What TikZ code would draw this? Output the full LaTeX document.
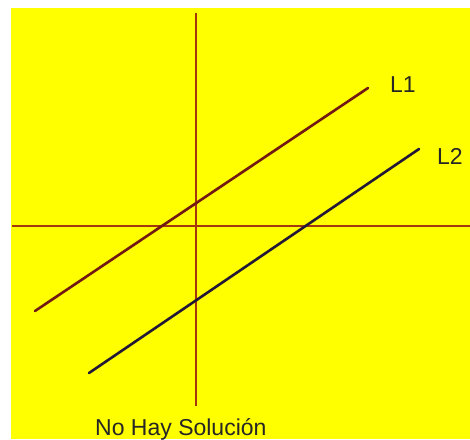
\documentclass[tikz,border=0pt]{standalone}
\usepackage{fontspec}
\setmainfont{Liberation Sans}
\definecolor{bgyellow}{RGB}{255,255,0}
\definecolor{axisred}{RGB}{165,55,15}
\definecolor{lineone}{RGB}{115,25,20}
\definecolor{linetwo}{RGB}{35,25,55}
\tikzset{
  axisline/.style={axisred,line width=1.8pt},
  sysline/.style={line width=2.6pt,line cap=round},
  lbl/.style={anchor=base west,inner sep=0pt,font=\fontsize{23}{25}\selectfont,text=black!85}
}

\begin{document}
\begin{tikzpicture}[x=1pt,y=-1pt]
  \useasboundingbox (0,0) rectangle (470,439);
  \fill[white] (0,0) rectangle (470,439);
  \fill[bgyellow] (11,8) rectangle (470,439);
  % axes
  \coordinate (ytop) at (196,13);
  \coordinate (ybot) at (196,406);
  \coordinate (xleft) at (12,226);
  \coordinate (xright) at (470,226);
  \draw[axisline] (ytop) -- (ybot);
  \draw[axisline] (xleft) -- (xright);
  % the two parallel lines
  \coordinate (a1) at (35,311);
  \coordinate (b1) at (368,88);
  \coordinate (a2) at (89,373);
  \coordinate (b2) at (419,149);
  \draw[sysline,lineone] (a1) -- (b1);
  \draw[sysline,linetwo] (a2) -- (b2);
  \node[lbl] (lone) at (390,92) {L1};
  \node[lbl] (ltwo) at (437,164) {L2};
  \node[lbl] (caption) at (95,435) {No Hay Solución};
\end{tikzpicture}
\end{document}
